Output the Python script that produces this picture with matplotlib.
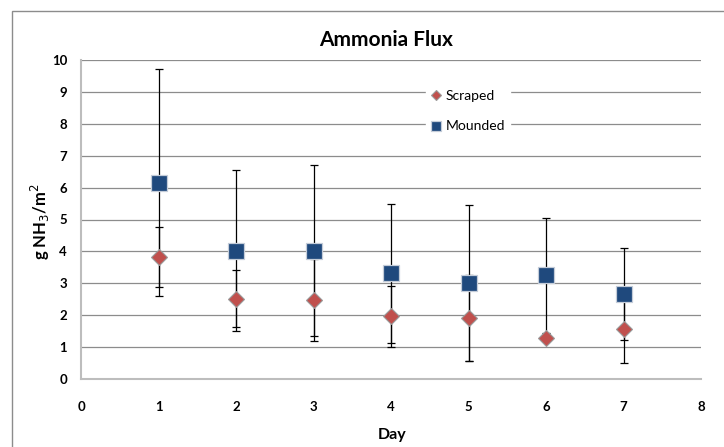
import matplotlib.pyplot as plt
import matplotlib.patches as mpatches
import numpy as np

plt.rcParams['font.family'] = ['Lato', 'DejaVu Sans']

# data
days = [1, 2, 3, 4, 5, 6, 7]
scraped = [3.82, 2.52, 2.48, 1.96, 1.91, 1.28, 1.58]
scraped_err = [0.94, 0.90, 1.28, 0.96, 1.36, 0.0, 1.07]
mounded = [6.15, 4.02, 4.02, 3.32, 3.01, 3.25, 2.67]
mounded_err = [3.56, 2.53, 2.68, 2.18, 2.46, 1.80, 1.45]

fig = plt.figure(figsize=(7.24, 4.47), dpi=100)
ax = fig.add_axes([81 / 724, 1 - 379 / 447, 620 / 724, 319 / 447])

# outer chart frame (only left and top edges visible)
frame = mpatches.Rectangle((12 / 724, -0.1), 1.2, 1 - 11 / 447 + 0.1,
                           transform=fig.transFigure, fill=False,
                           edgecolor='#8c8c8c', linewidth=1, zorder=-1)
fig.patches.append(frame)

ax.errorbar(days, scraped, yerr=scraped_err, fmt='none', ecolor='black',
            elinewidth=0.9, capsize=3, capthick=0.9, zorder=3)
ax.errorbar(days, mounded, yerr=mounded_err, fmt='none', ecolor='black',
            elinewidth=0.9, capsize=3, capthick=0.9, zorder=3)
ax.plot(days, scraped, linestyle='none', marker='D', markersize=8,
        color='#C0504D', markeredgecolor='#9a9a9a', markeredgewidth=0.8,
        label='Scraped', zorder=5)
ax.plot(days, mounded, linestyle='none', marker='s', markersize=11.5,
        color='#1F497D', markeredgecolor='#c4ccd8', markeredgewidth=0.9,
        label='Mounded', zorder=5)

ax.set_xlim(0, 8)
ax.set_ylim(0, 10)
ax.set_xticks(range(0, 9))
ax.set_yticks(range(0, 11))
ax.tick_params(length=0, labelsize=9.5)
ax.tick_params(axis='x', pad=16)
ax.tick_params(axis='y', pad=10)
for lbl in ax.get_xticklabels() + ax.get_yticklabels():
    lbl.set_fontweight('bold')

ax.grid(axis='y', color='#8c8c8c', linewidth=0.9)
ax.set_axisbelow(True)
for s in ['top', 'right']:
    ax.spines[s].set_visible(False)
for s in ['left', 'bottom']:
    ax.spines[s].set_color('#bdbdbd')
    ax.spines[s].set_linewidth(1.5)

fig.text(386 / 724, 1 - 40 / 447, 'Ammonia Flux', ha='center', va='center',
         fontsize=15, fontweight='bold')
fig.text(392 / 724, 1 - 435 / 447, 'Day', ha='center', va='center',
         fontsize=11.5, fontweight='bold')
fig.text(40 / 724, 1 - 222 / 447, 'g NH$_3$/m$^2$', ha='center', va='center',
         rotation=90, fontsize=12, fontweight='bold')

leg = ax.legend(loc='center', bbox_to_anchor=(468 / 724, 1 - 111 / 447),
                bbox_transform=fig.transFigure, frameon=True, fontsize=10,
                labelspacing=1.35, handlelength=0.8, handletextpad=0.3,
                markerscale=0.65, borderpad=0.3)
leg.get_frame().set_edgecolor('white')
leg.get_frame().set_facecolor('white')
leg.get_frame().set_alpha(1)

fig.savefig('out.png', dpi=100)
